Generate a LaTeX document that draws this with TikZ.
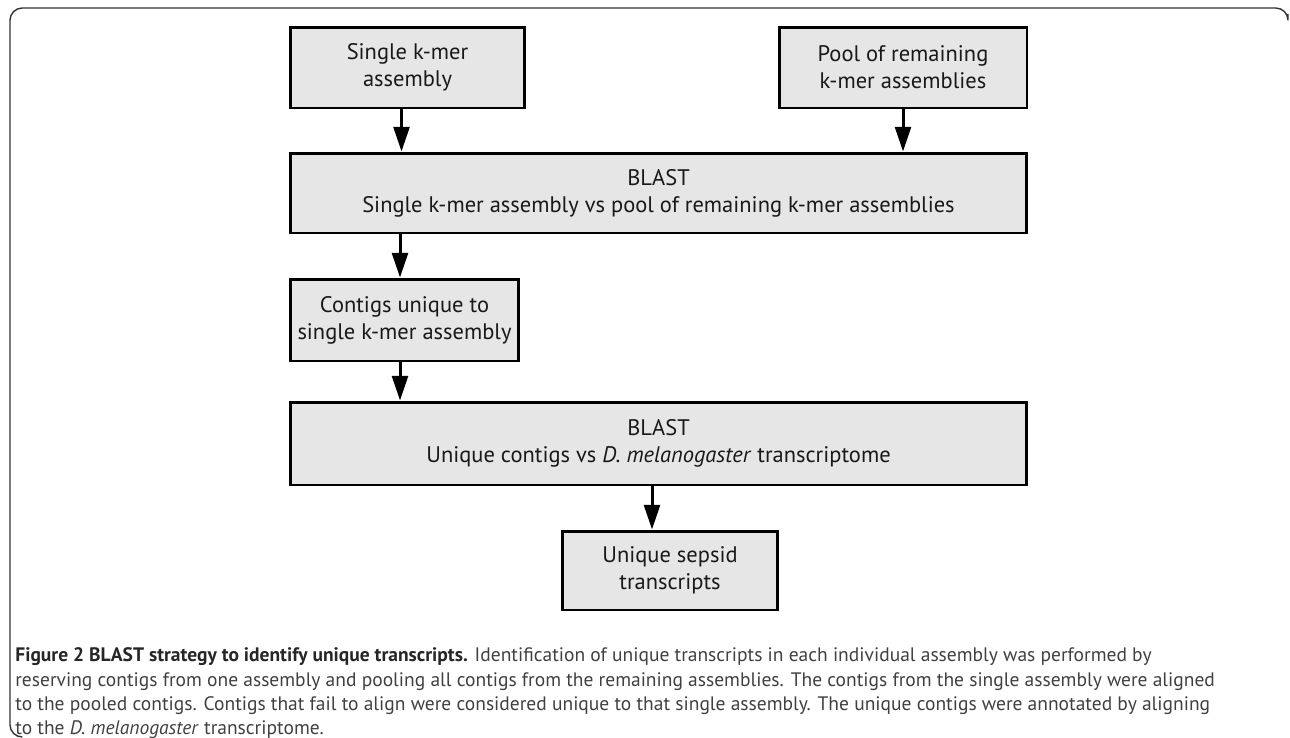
\documentclass[tikz,border=0pt]{standalone}
\usepackage{fontspec}
\setmainfont{PT Sans}
\usetikzlibrary{arrows.meta}
\definecolor{boxfill}{HTML}{E6E6E6}
\definecolor{captext}{HTML}{404040}
\begin{document}
\begin{tikzpicture}[x=0.02cm,y=-0.02cm,
    box/.style={draw, fill=boxfill, line width=1.7pt, align=center, inner sep=0pt,
      text=black!90, font=\fontsize{12.8}{15.5}\selectfont},
    flow/.style={line width=1.7pt, -{Triangle[width=9pt,length=14pt]}},
    capline/.style={anchor=base west, inner sep=0pt, text=captext,
      font=\fontsize{11.1}{13}\selectfont}]
  \useasboundingbox (0,0) rectangle (1290,737);
  \draw[line width=0.8pt, black!80, rounded corners=7pt] (1288,14) |- (10,8) |- (22,737);

  \node[box, minimum width=4.7cm, minimum height=1.62cm] (single) at (407.5,67.5) {Single k-mer\\assembly};
  \node[box, minimum width=4.96cm, minimum height=1.62cm] (pool) at (903,67.5) {Pool of remaining\\k-mer assemblies};
  \node[box, minimum width=14.74cm, minimum height=1.6cm] (blastA) at (658.5,193) {BLAST\\Single k-mer assembly vs pool of remaining k-mer assemblies};
  \node[box, minimum width=4.58cm, minimum height=1.64cm] (contigs) at (404.5,320) {Contigs unique to\\single k-mer assembly};
  \node[box, minimum width=14.74cm, minimum height=1.66cm] (blastB) at (658.5,443.5) {BLAST\\Unique contigs vs \textit{D. melanogaster} transcriptome};
  \node[box, minimum width=4.32cm, minimum height=1.58cm] (unique) at (670,570.5) {Unique sepsid\\transcripts};

  \draw[flow] ([xshift=-0.12cm]single.south) -- ([xshift=-0.12cm]single.south |- blastA.north);
  \draw[flow] (pool.south) -- (pool.south |- blastA.north);
  \draw[flow] ([xshift=-0.09cm]contigs.north |- blastA.south) -- ([xshift=-0.09cm]contigs.north);
  \draw[flow] ([xshift=-0.09cm]contigs.south) -- ([xshift=-0.09cm]contigs.south |- blastB.north);
  \draw[flow] ([xshift=-0.36cm]unique.north |- blastB.south) -- ([xshift=-0.36cm]unique.north);

  \node[capline] (cap1) at (15,661) {\textbf{\color{black!85}Figure 2 BLAST strategy to identify unique transcripts.} Identification of unique transcripts in each individual assembly was performed by};
  \node[capline] (cap2) at (15,686) {reserving contigs from one assembly and pooling all contigs from the remaining assemblies. The contigs from the single assembly were aligned};
  \node[capline] (cap3) at (15,710) {to the pooled contigs. Contigs that fail to align were considered unique to that single assembly. The unique contigs were annotated by aligning};
  \node[capline] (cap4) at (15,734) {to the \textit{D. melanogaster} transcriptome.};
\end{tikzpicture}
\end{document}
